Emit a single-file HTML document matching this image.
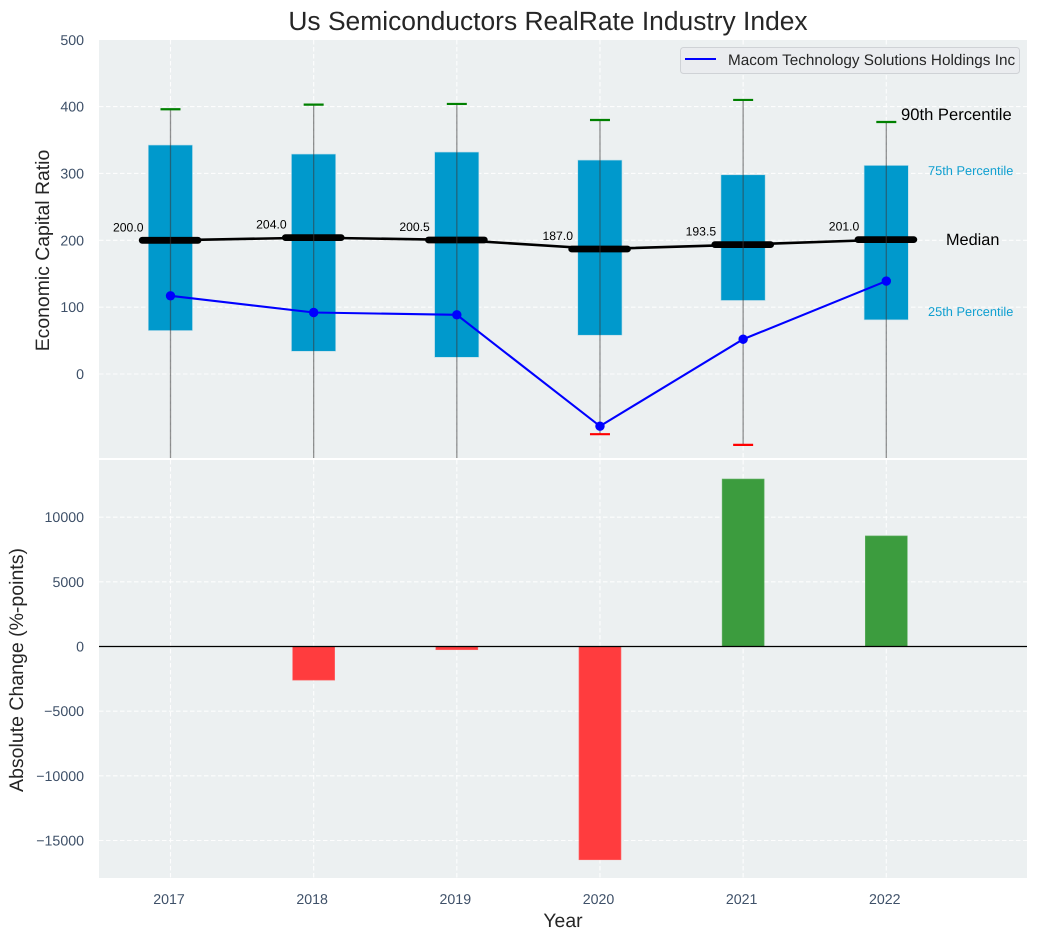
<!DOCTYPE html>
<html lang="en">
<head>
<meta charset="utf-8">
<title>Us Semiconductors RealRate Industry Index</title>
<style>
html,body{margin:0;padding:0;background:#fff;}
body{width:1038px;height:940px;overflow:hidden;}
svg{display:block;font-family:"Liberation Sans",Arial,sans-serif;text-rendering:geometricPrecision;}
</style>
</head>
<body>
<svg id="chart" xmlns="http://www.w3.org/2000/svg" width="1038" height="940" viewBox="0 0 1038 940">
  <defs>
    <clipPath id="top-clip"><rect x="99" y="40" width="928" height="418"></rect></clipPath>
    <clipPath id="bottom-clip"><rect x="99" y="460" width="928" height="418"></rect></clipPath>
  </defs>
  <text x="548" y="30" font-size="26.4" fill="#262626" text-anchor="middle">Us Semiconductors RealRate Industry Index</text>
  <rect x="99" y="40" width="928" height="418" fill="#ecf0f1"></rect>
  <rect x="99" y="460" width="928" height="418" fill="#ecf0f1"></rect>
  <g id="grid"></g>
  <g id="top-axis"></g>
  <g id="bottom-axis"></g>
  <g id="x-axis"></g>
  <g id="top-marks" clip-path="url(#top-clip)"></g>
  <g id="bottom-marks" clip-path="url(#bottom-clip)"></g>
  <text transform="translate(49,250.5) rotate(-90)" font-size="19.4" fill="#262626" text-anchor="middle">Economic Capital Ratio</text>
  <text transform="translate(23,670) rotate(-90)" font-size="19.5" fill="#262626" text-anchor="middle">Absolute Change (%-points)</text>
  <text x="563" y="927" font-size="19.4" fill="#262626" text-anchor="middle">Year</text>
  <text x="901" y="120" font-size="16.6" fill="#000">90th Percentile</text>
  <text x="928" y="175" font-size="12.8" fill="#0f9fd0">75th Percentile</text>
  <text x="946" y="245" font-size="16.3" fill="#000">Median</text>
  <text x="928" y="316" font-size="12.8" fill="#0f9fd0">25th Percentile</text>
  <g>
    <rect x="680.5" y="47.5" width="339" height="26" rx="3" fill="#eaecef" stroke="#cfd2d6"></rect>
    <line x1="685" y1="59" x2="716" y2="59" stroke="#0000ff" stroke-width="2"></line>
    <text x="728" y="65" font-size="15.3" fill="#262626">Macom Technology Solutions Holdings Inc</text>
  </g>
</svg>
<script>
const years = [2017, 2018, 2019, 2020, 2021, 2022];
const p90 = [396, 403, 404, 380, 410, 377];
const p75 = [342.5, 329, 332, 320, 298, 312];
const medians = [200, 204, 200.5, 187, 193.5, 201];
const medianLabels = ["200.0", "204.0", "200.5", "187.0", "193.5", "201.0"];
const p25 = [65, 34, 25, 58, 110, 81];
const p10 = [-140, -135, -150, -90, -106, -130];
const company = [117, 92, 88.5, -78, 52, 139];
const changes = [0, -2600, -250, -16490, 12950, 8550];
const topTicks = [0, 100, 200, 300, 400, 500];
const bottomTicks = [-15000, -10000, -5000, 0, 5000, 10000];

const NS = 'http://www.w3.org/2000/svg';
function xScale(year) { return 170.5 + (year - 2017) * 143.16; }
function yTop(v) { return 374 - v * 0.6685; }
function yBottom(v) { return 646.5 - v * 0.012933; }
function make(tag, parent, attrs, text) {
  const el = document.createElementNS(NS, tag);
  for (const k in attrs) el.setAttribute(k, attrs[k]);
  if (text !== undefined) el.textContent = text;
  parent.appendChild(el);
  return el;
}
const grid = document.getElementById('grid');
const topAxis = document.getElementById('top-axis');
const bottomAxis = document.getElementById('bottom-axis');
const xAxis = document.getElementById('x-axis');
const topMarks = document.getElementById('top-marks');
const bottomMarks = document.getElementById('bottom-marks');
const gridStyle = { stroke: '#ffffff', 'stroke-width': 1.1, 'stroke-dasharray': '4.5 2.5', opacity: 0.9 };
const tickStyle = { 'font-size': 14.2, fill: '#3e5068', 'text-anchor': 'end' };

topTicks.forEach(function (t) {
  const y = yTop(t);
  if (t < 500) {
    const g = make('line', grid, Object.assign({ x1: 99, x2: 1027, y1: y, y2: y }, gridStyle));
    
    
  }
  const l = make('text', topAxis, Object.assign({ x: 84, y: y + 5 }, tickStyle), String(t));
  
  
});
bottomTicks.forEach(function (t) {
  const y = yBottom(t);
  const g = make('line', grid, Object.assign({ x1: 99, x2: 1027, y1: y, y2: y }, gridStyle));
  
  
  const l = make('text', bottomAxis, Object.assign({ x: 84, y: y + 5 }, tickStyle), String(t).replace('-', '\u2212'));
  
  
});
years.forEach(function (yr) {
  const x = xScale(yr);
  const g1 = make('line', grid, Object.assign({ x1: x, x2: x, y1: 40, y2: 458 }, gridStyle));
  
  
  const g2 = make('line', grid, Object.assign({ x1: x, x2: x, y1: 460, y2: 878 }, gridStyle));
  
  
  const l = make('text', xAxis, { x: x - 1.5, y: 904, 'font-size': 14.2, fill: '#3e5068', 'text-anchor': 'middle' }, String(yr));
  
  
});

years.forEach(function (yr, i) {
  const x = xScale(yr);
  const box = make('rect', topMarks, { x: x - 22.2, y: yTop(p75[i]), width: 44.2, height: yTop(p25[i]) - yTop(p75[i]), fill: '#0099cc', stroke: '#b7dbe8', 'stroke-width': 0.6 });
  
  
});

const medianPath = make('polyline', topMarks, { points: years.map(function (yr, i) { return xScale(yr) + ',' + yTop(medians[i]); }).join(' '), fill: 'none', stroke: '#000', 'stroke-width': 2.6 });



years.forEach(function (yr, i) {
  const x = xScale(yr);
  const bar = make('line', topMarks, { x1: x - 28.3, x2: x + 27.5, y1: yTop(medians[i]), y2: yTop(medians[i]), stroke: '#000', 'stroke-width': 6.8, 'stroke-linecap': 'round' });
  
  
  const whisker = make('line', topMarks, { x1: x, x2: x, y1: yTop(p90[i]), y2: yTop(p10[i]), stroke: '#3a3a3a', 'stroke-width': 1.3, opacity: 0.55 });
  
  
  const hi = make('line', topMarks, { x1: x - 10, x2: x + 10, y1: yTop(p90[i]), y2: yTop(p90[i]), stroke: '#008000', 'stroke-width': 2.2 });
  
  
  const lo = make('line', topMarks, { x1: x - 10, x2: x + 10, y1: yTop(p10[i]), y2: yTop(p10[i]), stroke: '#ff0000', 'stroke-width': 2.2 });
  
  
  const label = make('text', topMarks, { x: x - 57.5, y: yTop(medians[i]) - 9, 'font-size': 12.2, fill: '#000' }, medianLabels[i]);
  
  
});

const companyLine = make('polyline', topMarks, { points: years.map(function (yr, i) { return xScale(yr) + ',' + yTop(company[i]); }).join(' '), fill: 'none', stroke: '#0000ff', 'stroke-width': 2.1 });


years.forEach(function (yr, i) {
  const dot = make('circle', topMarks, { cx: xScale(yr), cy: yTop(company[i]), r: 4.7, fill: '#0000ff' });
  
  
});

years.forEach(function (yr, i) {
  const x = xScale(yr);
  const v = changes[i];
  if (v === 0) return;
  const y0 = yBottom(Math.max(v, 0));
  const h = Math.abs(yBottom(v) - yBottom(0));
  const bar = make('rect', bottomMarks, { x: x - 21, y: y0, width: 42, height: h, fill: v < 0 ? '#ff3c3e' : '#3c9c3e', stroke: v < 0 ? '#ff6668' : '#62b064', 'stroke-width': 0.6 });
  
  
});
const zero = make('line', bottomMarks, { x1: 99, x2: 1027, y1: yBottom(0), y2: yBottom(0), stroke: '#000', 'stroke-width': 1.2 });


</script>
</body>
</html>
